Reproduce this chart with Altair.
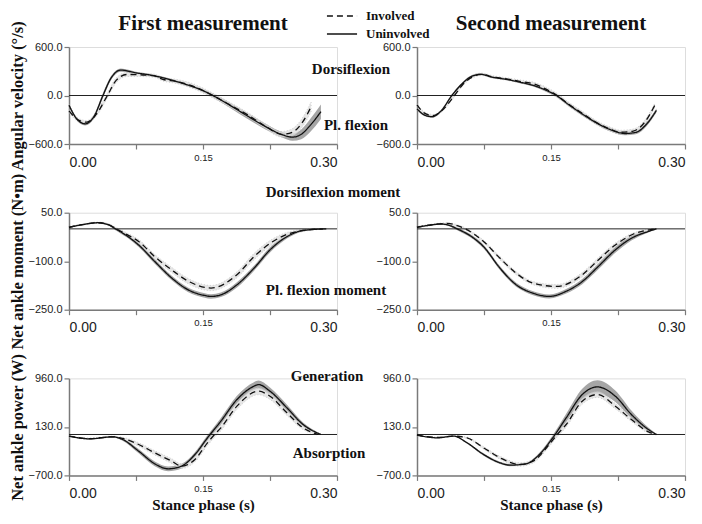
import altair as alt
import pandas as pd

# ---------------- data (time in s, mean, SD) ----------------
# Angular velocity, first measurement
av1_uni_t = [0.000,0.008,0.018,0.028,0.038,0.047,0.058,0.075,0.090,0.110,0.130,0.150,0.161,0.180,0.200,0.220,0.240,0.250,0.260,0.270,0.282]
av1_uni_v = [-120,-280,-350,-260,0,215,315,280,255,205,140,60,0,-120,-255,-385,-490,-515,-480,-370,-200]
av1_uni_sd = [20,20,20,25,30,25,20,15,15,15,15,20,25,30,35,35,35,45,60,80,90]
av1_inv_t = [0.000,0.010,0.020,0.030,0.043,0.053,0.065,0.080,0.095,0.105,0.120,0.140,0.161,0.180,0.200,0.220,0.238,0.250,0.262,0.271]
av1_inv_v = [-190,-300,-330,-240,0,190,260,255,245,200,175,110,0,-115,-240,-380,-480,-455,-320,-140]
av1_inv_sd = [20,20,20,25,30,30,25,20,20,20,25,30,30,30,30,30,35,45,55,60]
# Angular velocity, second measurement
av2_uni_t = [0.000,0.008,0.017,0.027,0.039,0.050,0.060,0.071,0.085,0.100,0.115,0.130,0.145,0.156,0.170,0.185,0.200,0.215,0.233,0.245,0.257,0.268]
av2_uni_v = [-165,-240,-262,-190,0,140,230,262,225,200,165,125,62,0,-115,-229,-333,-416,-470,-456,-354,-185]
av2_uni_sd = [15,15,15,15,15,15,15,12,12,12,12,15,18,20,22,22,22,22,22,22,25,25]
av2_inv_t = [0.000,0.008,0.018,0.028,0.042,0.052,0.062,0.072,0.085,0.100,0.115,0.130,0.145,0.157,0.170,0.185,0.200,0.215,0.228,0.242,0.255,0.266]
av2_inv_v = [-115,-215,-250,-185,0,145,230,262,230,205,175,146,75,0,-110,-220,-330,-410,-455,-440,-330,-125]
av2_inv_sd = [15,15,15,15,15,15,15,15,15,15,18,20,25,25,25,25,25,25,25,25,25,25]
# Net ankle moment, first measurement
mo1_uni_t = [0.000,0.015,0.032,0.045,0.052,0.065,0.078,0.096,0.115,0.133,0.152,0.159,0.170,0.188,0.207,0.225,0.244,0.262,0.288]
mo1_uni_v = [5,13,19,12,0,-22,-50,-101,-152,-188,-206,-209,-204,-173,-122,-65,-24,-5,0]
mo1_uni_sd = [2,2,2,3,4,5,6,7,7,7,7,7,7,8,8,8,6,3,1]
mo1_inv_t = [0.000,0.015,0.032,0.045,0.053,0.065,0.078,0.096,0.115,0.133,0.159,0.188,0.207,0.225,0.244,0.262,0.284]
mo1_inv_v = [5,13,19,12,0,-18,-39,-86,-127,-161,-183,-142,-86,-45,-17,-5,0]
mo1_inv_sd = [2,2,2,3,4,5,6,7,8,8,8,9,10,9,6,3,1]
# Net ankle moment, second measurement
mo2_uni_t = [0.000,0.013,0.027,0.038,0.045,0.060,0.0745,0.093,0.111,0.130,0.148,0.167,0.185,0.203,0.222,0.240,0.259,0.268]
mo2_uni_v = [5,11,15,9,0,-22,-55,-122,-173,-199,-209,-193,-163,-116,-65,-29,-8,0]
mo2_uni_sd = [2,2,2,3,4,5,6,6,6,6,6,7,8,9,9,7,3,1]
mo2_inv_t = [0.000,0.015,0.034,0.046,0.054,0.0745,0.093,0.111,0.130,0.156,0.185,0.203,0.222,0.240,0.268]
mo2_inv_v = [5,12,17,9,0,-39,-91,-137,-168,-178,-142,-96,-50,-19,0]
mo2_inv_sd = [2,2,2,3,3,4,5,5,5,6,7,7,6,4,1]
# Net ankle power, first measurement
pw1_uni_t = [0.000,0.023,0.049,0.060,0.078,0.096,0.111,0.126,0.141,0.155,0.170,0.188,0.207,0.212,0.225,0.244,0.262,0.282]
pw1_uni_v = [-28,-74,-40,-85,-285,-502,-587,-541,-342,-57,228,598,826,855,741,456,171,0]
pw1_uni_sd = [10,10,10,20,35,40,40,40,40,45,55,65,70,70,65,55,35,10]
pw1_inv_t = [0.000,0.023,0.049,0.060,0.078,0.096,0.115,0.126,0.141,0.155,0.163,0.170,0.188,0.212,0.225,0.244,0.262,0.279]
pw1_inv_v = [-28,-70,-40,-68,-171,-314,-456,-541,-427,-142,0,114,485,741,655,371,114,0]
pw1_inv_sd = [10,10,10,20,30,35,40,40,40,45,45,50,55,60,55,45,30,10]
# Net ankle power, second measurement
pw2_uni_t = [0.000,0.023,0.041,0.056,0.0745,0.093,0.104,0.122,0.137,0.152,0.167,0.185,0.202,0.222,0.240,0.259,0.268]
pw2_uni_v = [-11,-57,-28,-142,-342,-485,-524,-502,-342,-57,285,684,815,655,342,86,0]
pw2_uni_sd = [8,8,8,15,20,20,20,20,30,45,70,100,115,100,70,35,10]
pw2_inv_t = [0.000,0.023,0.041,0.056,0.0745,0.093,0.115,0.130,0.148,0.157,0.167,0.185,0.202,0.222,0.240,0.259,0.268]
pw2_inv_v = [-11,-50,-28,-57,-228,-399,-513,-456,-171,0,171,570,684,484,257,46,0]
pw2_inv_sd = [8,8,8,12,20,25,30,30,35,40,45,50,50,45,35,20,8]

groups = ["Involved", "Uninvolved"]
x_ticks = [0.0, 0.075, 0.15, 0.225, 0.3]

SERIF = "Liberation Serif"
SANS = "Liberation Sans"

PW, PH = 268, 97


def frame(inv, uni):
    rows = []
    for name, (t, v, sd) in (("Involved", inv), ("Uninvolved", uni)):
        for a, b, c in zip(t, v, sd):
            rows.append({"t": a, "v": b, "lo": b - c, "hi": b + c, "side": name})
    return pd.DataFrame(rows)


def note(txt, px, py, size=15):
    return alt.Chart(pd.DataFrame({"a": [0]})).mark_text(
        font=SERIF, fontSize=size, fontWeight="bold", color="#111", align="center", baseline="middle"
    ).encode(x=alt.value(px), y=alt.value(py), text=alt.value(txt))


def panel(inv, uni, ydom, yticks, ylabels, ytitle=None, xtitle=None, title=None, notes=()):
    df = frame(inv, uni)
    xs = alt.Scale(domain=[0, 0.3], nice=False)
    ys = alt.Scale(domain=ydom, nice=False, zero=False)
    lab_list = "[" + ",".join(str(v) for v in ylabels) + "]"
    if xtitle:
        xkw = dict(title=xtitle, titleFont=SERIF, titleFontSize=15, titleFontWeight="bold",
                   titleColor="#111", titleY=22, titleBaseline="top", titleX=PW / 2)
    else:
        xkw = dict(title=None)
    xaxis = alt.Axis(
        values=x_ticks, grid=False, tickSize=5, domainColor="#7a7a7a", tickColor="#7a7a7a",
        domainWidth=1.5, tickWidth=1.2, labelFont=SANS, labelColor="#222",
        labelExpr="abs(datum.value-0.075)<0.001 || abs(datum.value-0.225)<0.001 ? '' : format(datum.value, '.2f')",
        labelFontSize={"condition": {"test": "abs(datum.value-0.15)<0.001", "value": 9.5}, "value": 14},
        labelPadding={"condition": {"test": "abs(datum.value-0.15)<0.001", "value": 3}, "value": 6},
        labelOverlap=False, **xkw,
    )
    if ytitle:
        ykw = dict(title=ytitle, titleFont=SERIF, titleFontSize=16.5, titleFontWeight="bold",
                   titleColor="#111", titleX=-51.5, titleY=PH / 2, titleBaseline="middle", titleAngle=270)
    else:
        ykw = dict(title=None)
    yaxis = alt.Axis(
        values=yticks, grid=False, tickSize=5, domainColor="#7a7a7a", tickColor="#7a7a7a",
        domainWidth=1.5, tickWidth=1.2, labelFont=SANS, labelFontSize=11, labelColor="#222",
        labelPadding=2, labelExpr=f"indexof({lab_list}, datum.value) >= 0 ? format(datum.value, '.1f') : ''",
        labelOverlap=False, **ykw,
    )
    base = alt.Chart(df)
    x = alt.X("t:Q", scale=xs, axis=xaxis)
    band_u = base.transform_filter(alt.datum.side == "Uninvolved").mark_area(
        color="#a6a6a6", interpolate="monotone"
    ).encode(x=x, y=alt.Y("lo:Q", scale=ys, axis=yaxis), y2="hi:Q")
    band_i = base.transform_filter(alt.datum.side == "Involved").mark_area(
        color="#dedede", opacity=0.75, interpolate="monotone", stroke="#c0c0c0",
        strokeDash=[1, 2], strokeWidth=1
    ).encode(x=x, y=alt.Y("lo:Q", scale=ys, axis=yaxis), y2="hi:Q")
    zero = alt.Chart(pd.DataFrame({"z": [0]})).mark_rule(color="#222", strokeWidth=1).encode(
        y=alt.Y("z:Q", scale=ys)
    )
    lines = base.mark_line(color="#111", strokeWidth=1.3, interpolate="monotone").encode(
        x=x,
        y=alt.Y("v:Q", scale=ys, axis=yaxis),
        strokeDash=alt.StrokeDash(
            "side:N",
            scale=alt.Scale(domain=groups, range=[[6, 4], [1, 0]]),
            legend=alt.Legend(
                title=None, orient="none", legendX=265, legendY=-39,
                symbolType="M-2.15,0H2.15", symbolSize=196, symbolStrokeWidth=1.3,
                symbolStrokeColor="#111", labelFont=SERIF, labelFontSize=13,
                labelFontWeight="bold", labelColor="#111", rowPadding=3, labelOffset=16,
                padding=0,
            ),
        ),
    )
    layers = [band_u, band_i, zero, lines]
    if title:
        layers.append(note(title, PW / 2, -23, size=21))
    for txt, px, py in notes:
        layers.append(note(txt, px, py))
    return alt.layer(*layers).properties(width=PW, height=PH)


av_dom, av_ticks, av_lab = [-600, 600], [-600, -300, 0, 300, 600], [-600, 0, 600]
mo_dom, mo_ticks, mo_lab = [-250, 50], [-250, -175, -100, -25, 50], [-250, -100, 50]
pw_dom, pw_ticks, pw_lab = [-700, 960], [-700, -285, 130, 545, 960], [-700, 130, 960]

p1 = panel((av1_inv_t, av1_inv_v, av1_inv_sd), (av1_uni_t, av1_uni_v, av1_uni_sd), av_dom, av_ticks, av_lab,
           ytitle="Angular velocity (°/s)", title="First measurement",
           notes=[("Dorsiflexion", 282, 22), ("Pl. flexion", 287, 78)])
p2 = panel((av2_inv_t, av2_inv_v, av2_inv_sd), (av2_uni_t, av2_uni_v, av2_uni_sd), av_dom, av_ticks, av_lab,
           title="Second measurement")
p3 = panel((mo1_inv_t, mo1_inv_v, mo1_inv_sd), (mo1_uni_t, mo1_uni_v, mo1_uni_sd), mo_dom, mo_ticks, mo_lab,
           ytitle="Net ankle moment (N•m)",
           notes=[("Dorsiflexion moment", 264, -21), ("Pl. flexion moment", 257, 77)])
p4 = panel((mo2_inv_t, mo2_inv_v, mo2_inv_sd), (mo2_uni_t, mo2_uni_v, mo2_uni_sd), mo_dom, mo_ticks, mo_lab)
p5 = panel((pw1_inv_t, pw1_inv_v, pw1_inv_sd), (pw1_uni_t, pw1_uni_v, pw1_uni_sd), pw_dom, pw_ticks, pw_lab,
           ytitle="Net ankle power (W)", xtitle="Stance phase (s)",
           notes=[("Generation", 258, -2), ("Absorption", 260, 75)])
p6 = panel((pw2_inv_t, pw2_inv_v, pw2_inv_sd), (pw2_uni_t, pw2_uni_v, pw2_uni_sd), pw_dom, pw_ticks, pw_lab,
           xtitle="Stance phase (s)")

chart = alt.concat(p1, p2, p3, p4, p5, p6, columns=2).properties(
    spacing={"row": 68.7, "column": 80}, bounds="flush", padding={"left": 0, "top": 0, "right": 0, "bottom": 0}
).configure_view(stroke=None).configure(background="white")

chart.save("out.html", embed_options={"renderer": "svg", "actions": False})
